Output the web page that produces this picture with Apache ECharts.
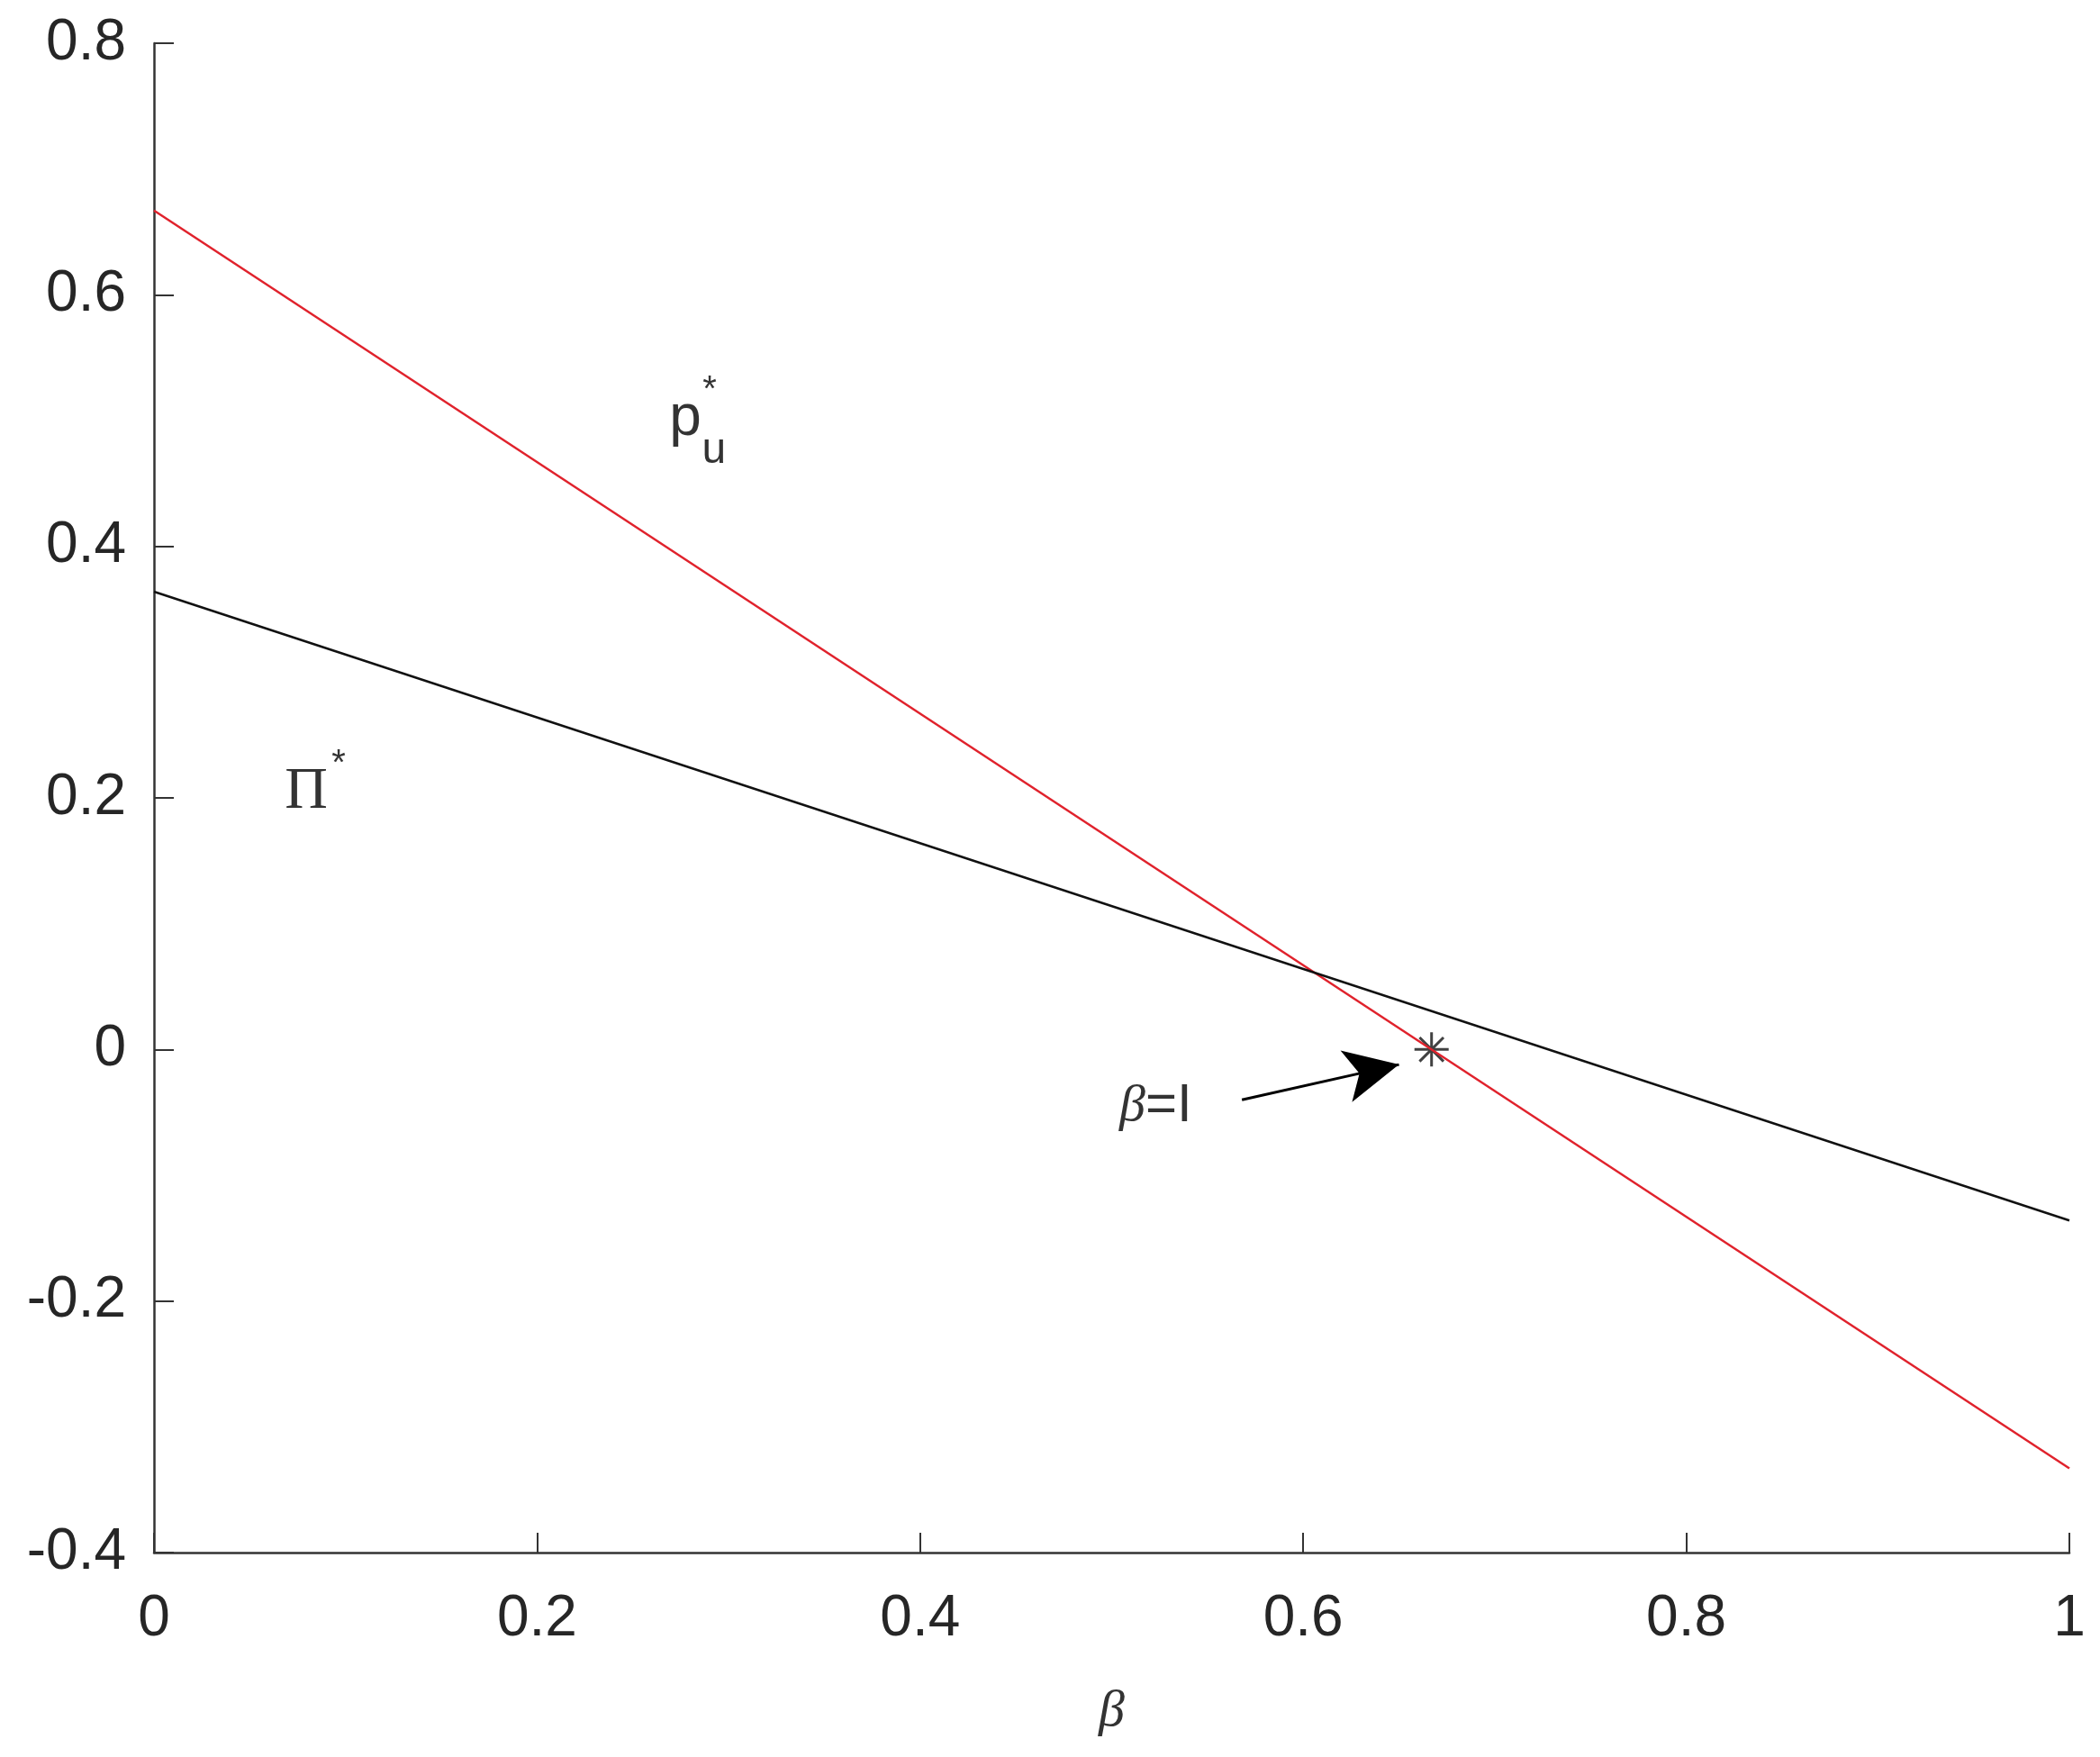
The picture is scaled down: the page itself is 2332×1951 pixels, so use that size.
<!DOCTYPE html>
<html>
<head>
<meta charset="utf-8">
<script src="https://cdn.jsdelivr.net/npm/echarts@6/dist/echarts.min.js"></script>
<style>
  html, body { margin: 0; padding: 0; background: #fff; }
  #main { width: 2332px; height: 1951px; }
</style>
</head>
<body>
<div id="main"></div>
<script>
// beta values at the two ends of the plotted range
const beta = [0, 1]
// red line p_u^*
const puValues = [0.667, -0.333]
// black line Pi^*
const piValues = [0.364, -0.136]
// marked point beta = l
const starPoint = [0.667, 0]
// annotation arrow, tail then head
const arrowTail = [0.568, -0.040]
const arrowHead = [0.650, -0.012]

// text notes: label, position in data units
const noteText = ['p', 'u', '*', 'Π', '*', 'β=I']
const notePos = [
  [0.2774, 0.5015],
  [0.2924, 0.4757],
  [0.2901, 0.5237],
  [0.0795, 0.2044],
  [0.0964, 0.2266],
  [0.504, -0.0454]
]

const sans = 'Liberation Sans, Arial, sans-serif'
const serif = 'Liberation Serif, Times New Roman, serif'
const axisColor = '#333'

const noteStyles = [
  { fontFamily: sans, fontSize: 64 },
  { fontFamily: sans, fontSize: 48 },
  { fontFamily: sans, fontSize: 40 },
  { fontFamily: serif, fontSize: 66 },
  { fontFamily: sans, fontSize: 40 },
  {
    position: 'right',
    distance: 0,
    formatter: '{b|β}{n|=I}',
    rich: {
      b: { fontFamily: serif, fontStyle: 'italic', fontSize: 58, color: '#000' },
      n: { fontFamily: sans, fontSize: 60, color: '#000' }
    }
  }
]

const notes = noteText.map(function(t, i) {
  return {
    value: notePos[i],
    name: t,
    label: Object.assign({ show: true, position: 'inside', color: '#000', formatter: '{b}' }, noteStyles[i])
  }
})

const myChart = echarts.init(document.getElementById('main'))

const option = {
  animation: false,
  backgroundColor: '#fff',
  grid: {
    left: 171,
    right: 34,
    top: 48,
    bottom: 227
  },
  xAxis: {
    type: 'value',
    min: 0,
    max: 1,
    interval: 0.2,
    name: 'β',
    nameLocation: 'middle',
    nameGap: 148,
    nameTextStyle: {
      fontFamily: serif,
      fontStyle: 'italic',
      fontSize: 58,
      color: '#333'
    },
    axisLine: { onZero: false, lineStyle: { color: axisColor, width: 2.5 } },
    axisTick: { inside: true, length: 22, lineStyle: { color: axisColor, width: 2 } },
    axisLabel: { margin: 42, fontFamily: sans, fontSize: 64, color: '#262626' },
    splitLine: { show: false }
  },
  yAxis: {
    type: 'value',
    min: -0.4,
    max: 0.8,
    interval: 0.2,
    axisLine: { show: true, onZero: false, lineStyle: { color: axisColor, width: 2.5 } },
    axisTick: { show: true, inside: true, length: 22, lineStyle: { color: axisColor, width: 2 } },
    axisLabel: { margin: 31, fontFamily: sans, fontSize: 64, color: '#262626' },
    splitLine: { show: false }
  },
  series: [
    {
      name: 'p_u*',
      type: 'line',
      data: beta.map(function(b, i) { return [b, puValues[i]] }),
      symbol: 'none',
      lineStyle: { color: '#e0222c', width: 2.5 },
      silent: true
    },
    {
      name: 'Pi*',
      type: 'line',
      data: beta.map(function(b, i) { return [b, piValues[i]] }),
      symbol: 'none',
      lineStyle: { color: '#111', width: 2.5 },
      silent: true
    },
    {
      name: 'beta=l',
      type: 'scatter',
      data: [starPoint],
      symbol: 'path://M0,-1L0,1M-1,0L1,0M-0.7,-0.7L0.7,0.7M-0.7,0.7L0.7,-0.7',
      symbolSize: 38,
      itemStyle: { color: 'transparent', borderColor: '#111', borderWidth: 3 },
      silent: true,
      markLine: {
        silent: true,
        symbol: ['none', 'arrow'],
        symbolSize: [44, 60],
        label: { show: false },
        lineStyle: { color: '#000', width: 3, type: 'solid' },
        data: [[{ coord: arrowTail }, { coord: arrowHead }]]
      }
    },
    {
      name: 'notes',
      type: 'scatter',
      data: notes,
      symbolSize: 0,
      silent: true
    }
  ]
}

myChart.setOption(option)
</script>
</body>
</html>
